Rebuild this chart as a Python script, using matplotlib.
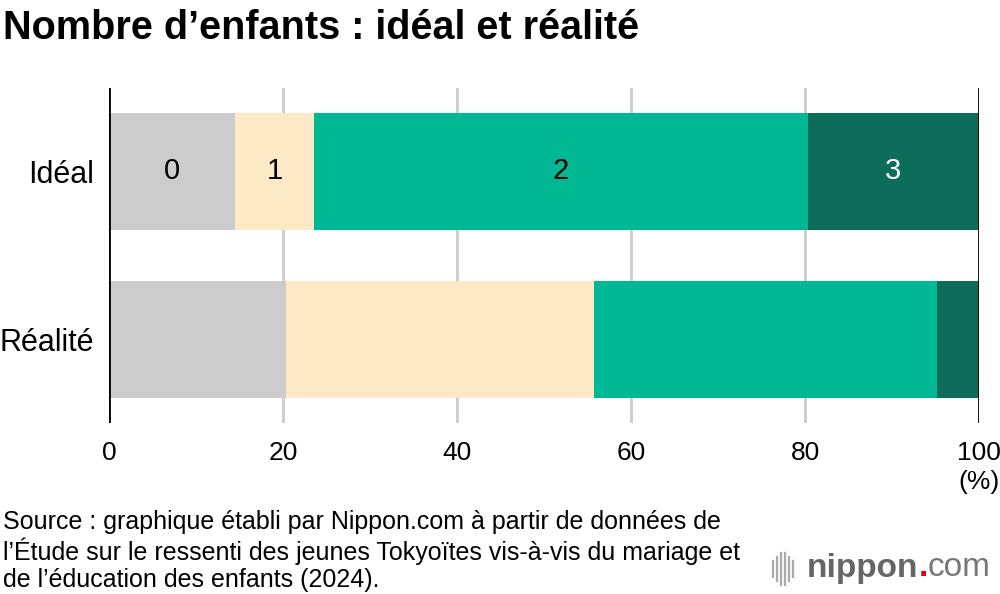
import matplotlib
matplotlib.use("Agg")
import matplotlib.pyplot as plt
from matplotlib.lines import Line2D

plt.rcParams['font.family'] = ['Liberation Sans', 'DejaVu Sans']

categories = ["Idéal", "Réalité"]
segments = ["0", "1", "2", "3"]
values = {
    "0": [14.5, 20.4],
    "1": [9.1, 35.3],
    "2": [56.7, 39.5],
    "3": [19.7, 4.8],
}
colors = ["#cccccc", "#fde9c6", "#00b894", "#0e6d5a"]
label_colors = ["#000000", "#000000", "#000000", "#ffffff"]
xticks = [0, 20, 40, 60, 80, 100]

fig = plt.figure(figsize=(10, 5.94), dpi=100)
ax = fig.add_axes([0.109, 1 - 423 / 594, 0.870, (423 - 88) / 594])

ypos = list(range(len(categories)))
left = [0.0] * len(categories)
for i, seg in enumerate(segments):
    vals = values[seg]
    ax.barh(ypos, vals, left=left, height=0.695, color=colors[i], zorder=2)
    # label segments in the first bar only
    ax.text(left[0] + vals[0] / 2, ypos[0], seg, ha="center", va="center",
            fontsize=21, color=label_colors[i], zorder=3)
    left = [l + v for l, v in zip(left, vals)]

ax.set_xlim(0, 100)
ax.set_ylim(1.496, -0.493)
for x in xticks[1:-1]:
    ax.axvline(x, color="#cccccc", lw=2, zorder=1)
for x in (0, 100):
    ax.axvline(x, color="#000000", lw=2, zorder=4)

for s in ax.spines.values():
    s.set_visible(False)
ax.set_xticks(xticks)
ax.set_xticklabels([str(x) for x in xticks], fontsize=19)
ax.tick_params(axis="x", length=0, pad=13)
ax.set_yticks(ypos)
ax.set_yticklabels(categories, fontsize=22)
ax.tick_params(axis="y", length=0, pad=11)

fig.text(0.979, 1 - 482 / 594, "(%)", ha="center", va="center", fontsize=19)

fig.text(0.003, 1 - 28 / 594, "Nombre d’enfants : idéal et réalité", ha="left",
         va="center", fontsize=28.5, fontweight="bold")

source = ("Source : graphique établi par Nippon.com à partir de données de\n"
          "l’Étude sur le ressenti des jeunes Tokyoïtes vis-à-vis du mariage et\n"
          "de l’éducation des enfants (2024).")
fig.text(0.003, 1 - 551 / 594, source, ha="left", va="center", fontsize=18,
         linespacing=1.15)

# logo
for k, (xx, h) in enumerate([(773, 8), (777, 12), (781, 16), (785, 16), (789, 12), (793, 8)]):
    fig.add_artist(Line2D([xx / 1000, xx / 1000],
                          [1 - (569 - h) / 594, 1 - (569 + h) / 594],
                          color="#aaaaaa", lw=1.6, transform=fig.transFigure))
t1 = fig.text(0.807, 1 - 568 / 594, "nippon", ha="left", va="center",
              fontsize=24, fontweight="bold", color="#666666")
fig.canvas.draw()
bb = t1.get_window_extent()
x2 = bb.x1 / fig.bbox.width
t2 = fig.text(x2, 1 - 568 / 594, ".", ha="left", va="center", fontsize=24,
              fontweight="bold", color="#e60012")
bb2 = t2.get_window_extent()
fig.text(bb2.x1 / fig.bbox.width, 1 - 568 / 594, "com", ha="left", va="center",
         fontsize=24, color="#777777")

fig.savefig("out.png", dpi=100)
